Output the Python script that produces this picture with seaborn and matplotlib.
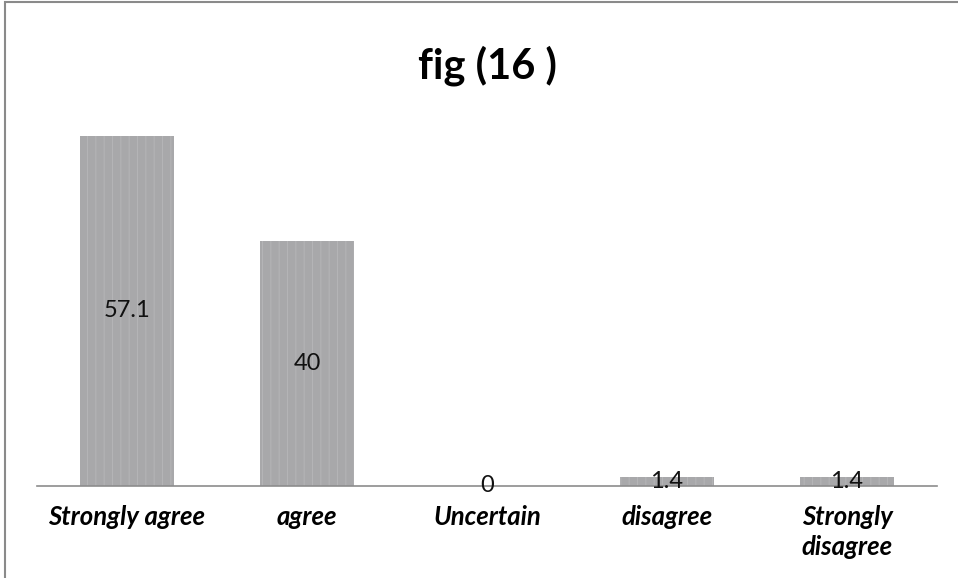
import matplotlib
matplotlib.use("Agg")
import matplotlib.pyplot as plt
import seaborn as sns
import pandas as pd
from matplotlib.patches import Rectangle

categories = ["Strongly agree", "agree", "Uncertain", "disagree", "Strongly\ndisagree"]
values = [57.1, 40, 0, 1.4, 1.4]
value_labels = ["57.1", "40", "0", "1.4", "1.4"]

sns.set_theme(style="white")
plt.rcParams["font.family"] = ["Lato", "DejaVu Sans"]
plt.rcParams["hatch.linewidth"] = 0.8

df = pd.DataFrame({"category": categories, "value": values})

fig = plt.figure(figsize=(9.58, 5.78), dpi=100)
ax = fig.add_axes([37 / 958, 1 - 486 / 578, 900 / 958, 368 / 578])

sns.barplot(data=df, x="category", y="value", ax=ax, color="#a8a8aa",
            width=0.52, saturation=1, edgecolor="none")
for p in ax.patches:
    p.set_hatch("||")
    p.set_edgecolor("#b4b4b6")
    p.set_linewidth(0)

ax.set_ylim(0, 60)
ax.set_xlim(-0.5, 4.5)
ax.set_xlabel("")
ax.set_ylabel("")
ax.set_yticks([])
for side in ["left", "right", "top"]:
    ax.spines[side].set_visible(False)
ax.spines["bottom"].set_color("#8c8c8c")
ax.spines["bottom"].set_linewidth(1.2)
ax.tick_params(axis="x", length=0, pad=14)
for lbl in ax.get_xticklabels():
    lbl.set_fontsize(18.5)
    lbl.set_fontweight("bold")
    lbl.set_fontstyle("italic")
    lbl.set_color("black")
    lbl.set_verticalalignment("top")
    lbl.set_linespacing(1.3)

for i, (v, t) in enumerate(zip(values, value_labels)):
    ax.text(i, v / 2, t, ha="center", va="center", fontsize=17, color="#111111")

fig.text(487 / 958, 1 - 66 / 578, "fig (16 )", ha="center", va="center",
         fontsize=30, fontweight="bold", color="black")

fig.patches.append(Rectangle((5 / 958, -0.1), 1.1, 1 - 2 / 578 + 0.1,
                             transform=fig.transFigure, fill=False,
                             edgecolor="#8a8a8a", linewidth=1.5))

fig.savefig("out.png", dpi=100, facecolor="white")
